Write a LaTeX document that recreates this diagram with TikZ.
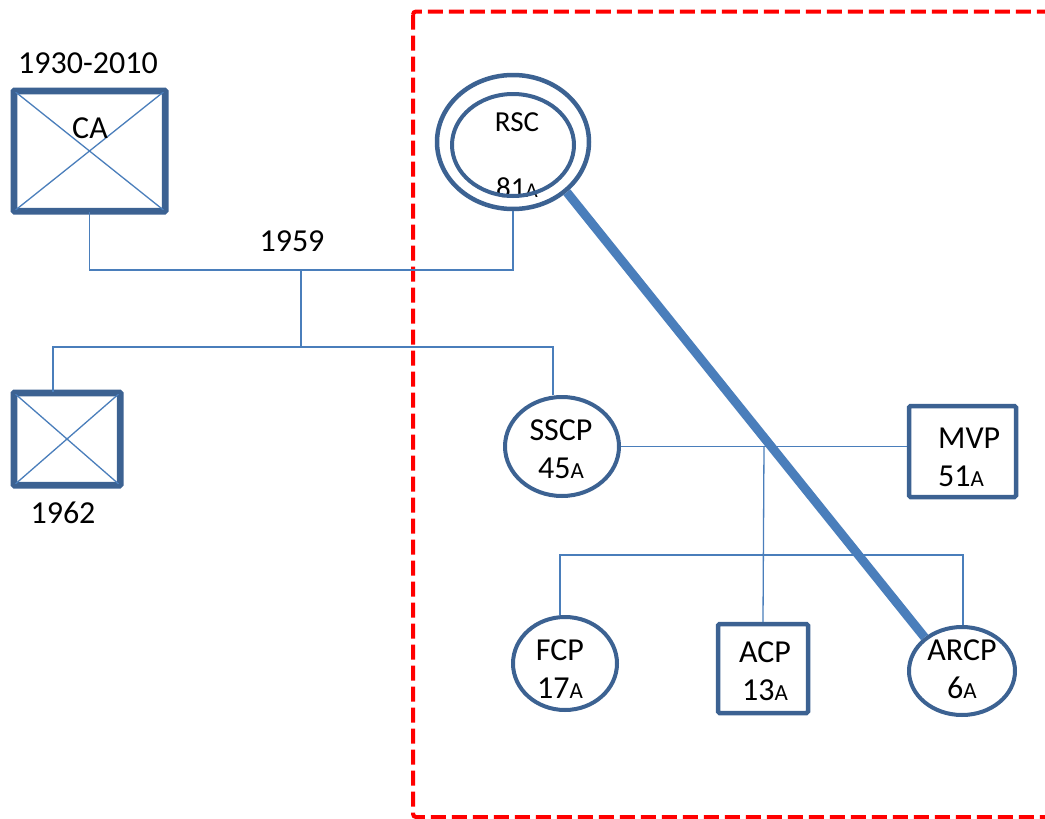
\documentclass[tikz,border=0pt]{standalone}
\usepackage{fontspec}
\setmainfont{Carlito}
\usetikzlibrary{shapes.geometric}
\definecolor{shapeblue}{HTML}{3C6292}
\definecolor{lineblue}{HTML}{4A7EBB}
\newcommand\smA{{\fontsize{23}{23}\selectfont A}}
\tikzset{
  lbl/.style={font=\fontsize{32}{38}\selectfont, inner sep=0pt, align=center, text=black},
  box/.style={draw=shapeblue, line width=4.5pt, rounded corners=1.5pt, fill=white, inner sep=0pt},
  oval/.style={ellipse, draw=shapeblue, line width=4pt, fill=white, inner sep=0pt},
  thin/.style={draw=lineblue, line width=1.3pt},
  bond/.style={draw=lineblue, line width=9pt},
  frame/.style={draw=red, line width=4pt, dash pattern=on 15pt off 6pt, rounded corners=3pt}
}
\begin{document}
\begin{tikzpicture}[x=1pt,y=-1pt]
\useasboundingbox (0,0) rectangle (1045,819);
\fill[white] (0,0) rectangle (1045,819);
% frame
\draw[frame] (413,11.5) rectangle (1075,817);
% coordinates
\coordinate (m1) at (301,270);
\coordinate (m2) at (301,347);
\coordinate (m3) at (764,446);
\coordinate (m4) at (764,555);
% shapes
\node[box, minimum width=149pt, minimum height=118pt] (ca) at (89.5,151) {};
\node[box, minimum width=104pt, minimum height=90pt] (kid) at (67,439) {};
\node[box, minimum width=107pt, minimum height=91pt] (mvp) at (962.5,451.5) {};
\node[box, minimum width=90pt, minimum height=89pt] (acp) at (763,668.5) {};
\node[oval, minimum width=114pt, minimum height=99pt] (sscp) at (562,446.5) {};
\node[oval, minimum width=104pt, minimum height=93pt] (fcp) at (565,663.5) {};
\node[oval, minimum width=106pt, minimum height=88pt] (arcp) at (962,671) {};
\node[oval, line width=4.5pt, minimum width=152pt, minimum height=134pt] (rsc) at (513,142) {};
% crosses
\draw[thin] (ca.north west) -- (ca.south east) (ca.south west) -- (ca.north east);
\draw[thin] (kid.north west) -- (kid.south east) (kid.south west) -- (kid.north east);
\draw[box, fill=none] (ca.north west) rectangle (ca.south east);
\draw[box, fill=none] (kid.north west) rectangle (kid.south east);
% connectors
\draw[thin] (ca.south) |- (m1) -| (rsc.south);
\draw[thin] (m1) -- (m2);
\draw[thin] ([xshift=-14pt]kid.north) |- (m2) -| ([xshift=-9pt]sscp.north);
\draw[thin] (sscp.east) -- (sscp.east -| mvp.west);
\draw[thin] (m3) -- (acp.north);
\draw[thin] ([xshift=-5pt]fcp.north) |- (m4) -| ([xshift=1pt]arcp.north);
\draw[bond] (rsc.-43) -- (arcp.138);
% texts
\node[lbl] (t1930) at (88,63) {1930-2010};
\node[lbl] (tca) at (90,128) {CA};
\node[lbl] (t1959) at (292,241) {1959};
\node[lbl] (t1962) at (63,513) {1962};
\node[lbl, font=\fontsize{29}{30}\selectfont] (trsc) at (517,122) {RSC};
\node[lbl, font=\fontsize{29}{30}\selectfont] (trscn) at (517,188) {81{\fontsize{21}{21}\selectfont A}};
\node[oval, fill=none, minimum width=122pt, minimum height=102pt] (rsci) at (513,145) {};
\node[lbl] (tsscp) at (561,449) {SSCP\\45\smA};
\node[lbl, anchor=west, align=left] (tmvp) at (938,457.5) {MVP\\51\smA};
\node[lbl] (tfcp) at (560,669) {FCP\\17\smA};
\node[lbl] (tacp) at (765,671) {ACP\\13\smA};
\node[lbl] (tarcp) at (962,669) {ARCP\\6\smA};
\end{tikzpicture}
\end{document}
